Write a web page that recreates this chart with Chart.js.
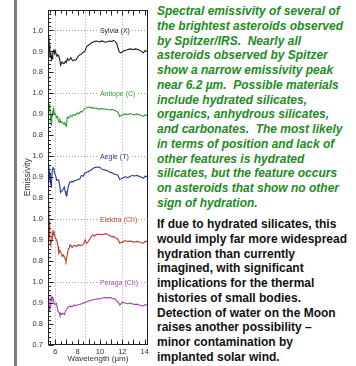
<!DOCTYPE html>
<html>
<head>
<meta charset="utf-8">
<script src="https://cdn.jsdelivr.net/npm/chart.js@4/dist/chart.umd.min.js"></script>
<style>
  html, body { margin: 0; padding: 0; background: #fff; width: 356px; height: 366px; overflow: hidden; }
  #bar { position: absolute; left: 14px; top: 0; width: 3px; height: 366px; background: #7c7c7c; }
  #plot { position: absolute; left: 0; top: 0; width: 152px; height: 366px; }
  .txt { position: absolute; left: 157px; font-family: "Liberation Sans", Arial, sans-serif; font-weight: bold;
         font-size: 12px; line-height: 14.75px; white-space: nowrap; }
  #p1 { top: 4px; color: #238b23; font-style: italic; }
  #p2 { top: 217px; color: #111; }
</style>
</head>
<body>
<div id="bar"></div>
<div id="plot"><canvas id="c" width="152" height="366"></canvas></div>
<div class="txt" id="p1">Spectral emissivity of several of<br>the brightest asteroids observed<br>by Spitzer/IRS.&nbsp; Nearly all<br>asteroids observed by Spitzer<br>show a narrow emissivity peak<br>near 6.2 µm.&nbsp; Possible materials<br>include hydrated silicates,<br>organics, anhydrous silicates,<br>and carbonates.&nbsp; The most likely<br>in terms of position and lack of<br>other features is hydrated<br>silicates, but the feature occurs<br>on asteroids that show no other<br>sign of hydration.</div>
<div class="txt" id="p2">If due to hydrated silicates, this<br>would imply far more widespread<br>hydration than currently<br>imagined, with significant<br>implications for the thermal<br>histories of small bodies.<br>Detection of water on the Moon<br>raises another possibility –<br>minor contamination by<br>implanted solar wind.</div>
<script>
// Asteroid names (spectral class) and line colours
const names = ['Sylvia (X)', 'Antiope (C)', 'Aegle (T)', 'Elektra (Ch)', 'Peraga (Ch)'];
const colors = ['#1c1c1c', '#2f9a2f', '#27389c', '#b93a2b', '#a53bb5'];

// Wavelength (µm) and emissivity for each asteroid
const sylviaWave = [5.42,5.47,5.52,5.56,5.60,5.64,5.68,5.73,5.78,5.83,5.87,5.93,5.98,6.03,6.09,6.14,6.22,6.32,6.40,6.48,6.55,6.63,6.72,6.81,6.90,6.99,7.08,7.18,7.29,7.36,7.44,7.52,7.59,7.70,7.80,7.89,8.00,8.10,8.22,8.34,8.48,8.64,8.75,8.85,8.95,9.09,9.22,9.39,9.55,9.69,9.85,9.99,10.15,10.29,10.45,10.59,10.75,10.89,11.05,11.19,11.35,11.50,11.62,11.73,11.85,11.95,12.10,12.24,12.40,12.54,12.75,12.95,13.15,13.35,13.55,13.75,13.90,14.05,14.20,14.30];
const sylviaEmis = [0.975,0.93,0.88,0.87,0.895,0.88,0.86,0.865,0.895,0.905,0.90,0.89,0.905,0.898,0.885,0.88,0.884,0.878,0.86,0.835,0.845,0.85,0.842,0.843,0.853,0.847,0.866,0.858,0.86,0.87,0.866,0.858,0.855,0.86,0.858,0.862,0.872,0.88,0.884,0.887,0.895,0.90,0.915,0.926,0.93,0.934,0.94,0.945,0.948,0.95,0.947,0.945,0.95,0.948,0.944,0.945,0.949,0.95,0.947,0.953,0.948,0.938,0.915,0.898,0.893,0.895,0.902,0.905,0.907,0.91,0.912,0.908,0.912,0.91,0.906,0.898,0.894,0.905,0.90,0.902];

const antiopeWave = [5.42,5.46,5.50,5.55,5.60,5.64,5.68,5.73,5.78,5.83,5.87,5.93,6.03,6.10,6.18,6.27,6.34,6.42,6.48,6.55,6.63,6.70,6.78,6.85,6.93,6.97,7.02,7.08,7.20,7.35,7.50,7.65,7.80,7.95,8.10,8.25,8.40,8.55,8.64,8.80,8.94,9.10,9.25,9.39,9.55,9.70,9.84,10.00,10.15,10.29,10.45,10.59,10.75,10.89,11.05,11.19,11.35,11.54,11.65,11.76,11.88,12.00,12.15,12.30,12.50,12.70,12.90,13.10,13.30,13.50,13.70,13.90,14.05,14.20,14.30];
const antiopeEmis = [0.943,0.92,0.95,0.90,0.87,0.848,0.875,0.905,0.89,0.926,0.915,0.90,0.902,0.885,0.89,0.872,0.863,0.875,0.868,0.862,0.863,0.858,0.855,0.86,0.848,0.844,0.86,0.887,0.882,0.895,0.89,0.899,0.895,0.907,0.903,0.913,0.912,0.922,0.929,0.93,0.934,0.935,0.93,0.932,0.928,0.93,0.926,0.924,0.928,0.926,0.925,0.924,0.923,0.92,0.924,0.922,0.918,0.913,0.905,0.89,0.893,0.897,0.90,0.902,0.898,0.904,0.90,0.897,0.902,0.899,0.894,0.89,0.897,0.895,0.896];

const aegleWave = [5.42,5.46,5.50,5.53,5.57,5.62,5.67,5.73,5.80,5.87,5.93,6.03,6.14,6.25,6.32,6.40,6.48,6.55,6.63,6.72,6.81,6.88,6.95,6.99,7.05,7.13,7.20,7.29,7.44,7.60,7.75,7.89,8.05,8.20,8.34,8.50,8.64,8.80,8.95,9.09,9.25,9.39,9.55,9.69,9.85,9.99,10.15,10.29,10.45,10.59,10.75,10.89,11.05,11.19,11.35,11.54,11.65,11.76,11.88,12.00,12.15,12.30,12.50,12.70,12.90,13.10,13.30,13.50,13.70,13.90,14.05,14.20,14.30];
const aegleEmis = [0.959,0.93,0.885,0.92,0.875,0.853,0.88,0.93,0.945,0.94,0.92,0.909,0.885,0.888,0.884,0.86,0.828,0.833,0.836,0.845,0.853,0.835,0.82,0.813,0.825,0.845,0.862,0.876,0.879,0.878,0.884,0.886,0.89,0.892,0.909,0.905,0.919,0.924,0.926,0.932,0.935,0.943,0.946,0.948,0.949,0.946,0.94,0.936,0.935,0.932,0.927,0.924,0.922,0.917,0.914,0.912,0.905,0.89,0.892,0.895,0.90,0.902,0.898,0.905,0.908,0.906,0.909,0.905,0.90,0.895,0.905,0.903,0.905];

const elektraWave = [5.40,5.42,5.45,5.48,5.52,5.55,5.60,5.64,5.68,5.73,5.78,5.87,5.93,6.00,6.08,6.16,6.25,6.32,6.40,6.48,6.55,6.63,6.72,6.81,6.90,6.96,7.02,7.08,7.17,7.26,7.32,7.40,7.52,7.62,7.76,7.90,8.06,8.22,8.37,8.55,8.68,8.80,8.93,9.05,9.20,9.35,9.50,9.70,9.85,10.00,10.15,10.30,10.45,10.60,10.75,10.90,11.05,11.20,11.35,11.50,11.65,11.76,11.88,12.00,12.15,12.30,12.50,12.70,12.90,13.10,13.30,13.50,13.70,13.90,14.05,14.20,14.30];
const elektraEmis = [1.073,1.04,0.99,0.949,0.915,0.89,0.878,0.895,0.902,0.935,0.92,0.941,0.93,0.909,0.905,0.895,0.87,0.838,0.85,0.842,0.835,0.823,0.83,0.82,0.81,0.80,0.815,0.831,0.86,0.862,0.878,0.872,0.865,0.872,0.875,0.87,0.878,0.874,0.876,0.882,0.902,0.886,0.892,0.902,0.915,0.925,0.92,0.928,0.927,0.929,0.926,0.928,0.93,0.93,0.925,0.922,0.917,0.918,0.912,0.909,0.90,0.886,0.89,0.888,0.896,0.897,0.894,0.896,0.893,0.89,0.894,0.892,0.888,0.886,0.895,0.893,0.895];

const peragaWave = [5.42,5.45,5.50,5.55,5.60,5.64,5.70,5.78,5.85,5.93,6.03,6.10,6.17,6.25,6.35,6.42,6.50,6.58,6.66,6.75,6.83,6.90,6.98,7.08,7.20,7.35,7.50,7.65,7.80,8.00,8.20,8.40,8.60,8.80,9.00,9.20,9.40,9.60,9.85,10.10,10.30,10.50,10.70,10.90,11.10,11.30,11.54,11.66,11.78,11.90,12.00,12.15,12.30,12.50,12.70,12.90,13.10,13.30,13.50,13.70,13.90,14.05,14.20,14.30];
const peragaEmis = [0.934,0.863,0.87,0.887,0.91,0.93,0.918,0.926,0.91,0.895,0.894,0.898,0.88,0.86,0.855,0.843,0.85,0.845,0.851,0.85,0.846,0.858,0.867,0.875,0.882,0.885,0.882,0.89,0.888,0.892,0.893,0.898,0.902,0.905,0.91,0.913,0.916,0.918,0.92,0.922,0.925,0.926,0.925,0.927,0.922,0.92,0.909,0.902,0.89,0.897,0.905,0.90,0.90,0.897,0.90,0.896,0.893,0.895,0.891,0.888,0.886,0.893,0.89,0.892];

// Axis ticks
const xTickValues = [6, 8, 10, 12, 14];
const yTickLabels = ['0.7','0.8','0.9','1.0','0.8','0.9','1.0','0.8','0.9','1.0','0.8','0.9','1.0','0.8','0.9','1.0'];

// Vertical offset of each stacked spectrum, and the marker wavelengths
const offsets = [1.2, 0.9, 0.6, 0.3, 0.0];
const refWaves = [6.0, 8.7, 12.0];
const labelWave = 10.0;

const waves = [sylviaWave, antiopeWave, aegleWave, elektraWave, peragaWave];
const emis = [sylviaEmis, antiopeEmis, aegleEmis, elektraEmis, peragaEmis];

const datasets = names.map((n, i) => ({
  label: n,
  data: waves[i].map((w, j) => ({ x: w, y: emis[i][j] + offsets[i] })),
  borderColor: colors[i],
  borderWidth: 1.1,
  pointRadius: 0,
  tension: 0,
  fill: false
}));

function seg(ctx, x1, y1, x2, y2) { ctx.beginPath(); ctx.moveTo(x1, y1); ctx.lineTo(x2, y2); ctx.stroke(); }

const decor = {
  id: 'decor',
  beforeDatasetsDraw(chart) {
    const { ctx, chartArea: a, scales: { x, y } } = chart;
    ctx.save();
    ctx.strokeStyle = '#a0a0a0';
    ctx.lineWidth = 1;
    ctx.setLineDash([1, 2]);
    refWaves.forEach(w => { const px = Math.round(x.getPixelForValue(w)) + 0.5; seg(ctx, px, a.top, px, a.bottom); });
    offsets.forEach(o => { const py = Math.round(y.getPixelForValue(1 + o)) + 0.5; seg(ctx, a.left, py, a.right, py); });
    ctx.restore();
  },
  afterDatasetsDraw(chart) {
    const { ctx, chartArea: a, scales: { x, y } } = chart;
    ctx.save();
    // spectrum names sitting on each 1.0 line
    ctx.font = '7px "Liberation Sans", Arial, sans-serif';
    ctx.textBaseline = 'middle';
    names.forEach((n, i) => {
      const px = x.getPixelForValue(labelWave);
      const py = Math.round(y.getPixelForValue(1 + offsets[i])) + 0.5;
      const w = ctx.measureText(n).width;
      ctx.fillStyle = '#fff';
      ctx.fillRect(px - 1, py - 3, w + 2, 6);
      ctx.fillStyle = colors[i];
      ctx.fillText(n, px, py + 1);
    });
    // frame
    ctx.strokeStyle = '#222';
    ctx.lineWidth = 1;
    const L = Math.round(a.left) + 0.5, R = Math.round(a.right) - 0.5, T = Math.round(a.top) + 0.5, B = Math.round(a.bottom) - 0.5;
    ctx.strokeRect(L, T, R - L, B - T);
    // inward ticks on the wavelength axis (top and bottom)
    for (let k = 11; k <= 28; k++) {
      const w = k / 2;
      const px = Math.round(x.getPixelForValue(w)) + 0.5;
      const len = (k % 2 === 0) ? 5 : 3;
      seg(ctx, px, T, px, T + len);
      seg(ctx, px, B, px, B - len);
    }
    // inward ticks on the emissivity axis
    for (let k = 35; k <= 115; k++) {
      const v = k / 50;
      const py = Math.round(y.getPixelForValue(v)) + 0.5;
      const len = (k % 5 === 0) ? 5 : 2.5;
      seg(ctx, L, py, L + len, py);
    }
    ctx.restore();
  }
};

new Chart(document.getElementById('c'), {
  type: 'line',
  data: { datasets },
  plugins: [decor],
  options: {
    responsive: false,
    animation: false,
    events: [],
    layout: { padding: { left: 0, right: 4, top: 7, bottom: 0 } },
    plugins: { legend: { display: false }, tooltip: { enabled: false } },
    scales: {
      x: {
        type: 'linear',
        min: 5.35,
        max: 14.3,
        grid: { display: false, drawTicks: false },
        border: { display: false },
        afterBuildTicks: s => { s.ticks = xTickValues.map(v => ({ value: v })); },
        afterFit: s => { s.height = 21; },
        ticks: { padding: 2, color: '#333', maxRotation: 0, font: { family: '"Liberation Sans", Arial, sans-serif', size: 7.5 },
                 callback: v => String(v) },
        title: { display: true, text: 'Wavelength (µm)', color: '#333', padding: { top: 0, bottom: 2 },
                 font: { family: '"Liberation Sans", Arial, sans-serif', size: 8 } }
      },
      y: {
        type: 'linear',
        min: 0.7,
        max: 2.3,
        grid: { display: false, drawTicks: false },
        border: { display: false },
        afterBuildTicks: s => { s.ticks = yTickLabels.map((t, i) => ({ value: 0.7 + i * 0.1 })); },
        afterFit: s => { s.width = 48; },
        ticks: { padding: 5, color: '#333', font: { family: '"Liberation Sans", Arial, sans-serif', size: 7.5 },
                 callback: (v, i) => yTickLabels[i] },
        title: { display: true, text: 'Emissivity', color: '#333', padding: { top: 23, bottom: 0 },
                 font: { family: '"Liberation Sans", Arial, sans-serif', size: 8.5 } }
      }
    }
  }
});
</script>
</body>
</html>
